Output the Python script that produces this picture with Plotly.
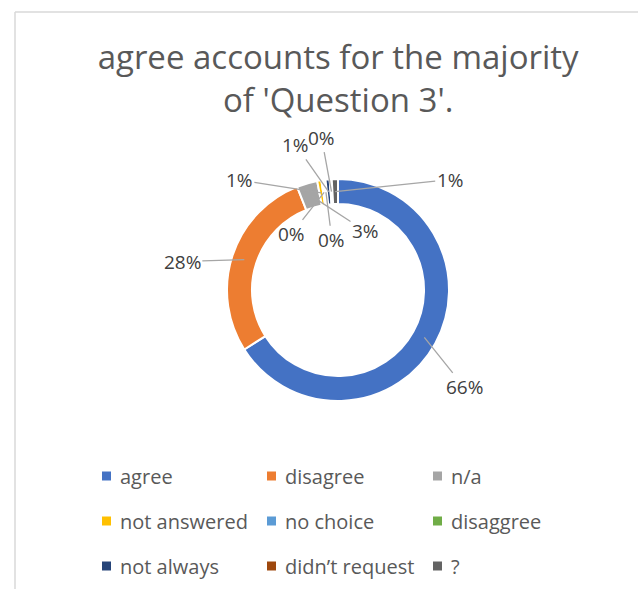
import math
import plotly.graph_objects as go

# Survey answers for Question 3 (percent of responses)
categories = ["agree", "disagree", "n/a", "not answered", "no choice",
              "disaggree", "not always", "didn\u2019t request", "?"]
shares = [66, 28, 3, 0.6, 0.3, 0.3, 0.6, 0.3, 0.9]
colors = ["#4472C4", "#ED7D31", "#A5A5A5", "#FFC000", "#5B9BD5",
          "#70AD47", "#264478", "#9E480E", "#636363"]

W, H = 638, 589
CX, CY, R = 338, 290, 111          # donut centre / outer radius (px)
HOLE = 0.775
FONT = "Open Sans"
# label offsets (px) from each slice's anchor on the ring
label_dx = [40, -62, 55, -82, -33, 6, -33, -10, 115]
label_dy = [50, 2, 36, -13, 42, 48, -47, -54, -12]

# legend grid (px): square left edges per column, row centres
leg_cols = [102, 267, 433]
leg_rows = [476, 521, 566]

# chart-area frame (px)
FRAME_L, FRAME_T = 15, 12

fig = go.Figure(go.Pie(
    labels=categories,
    values=shares,
    hole=HOLE,
    sort=False,
    direction="clockwise",
    rotation=0,
    marker=dict(colors=colors, line=dict(color="white", width=2)),
    textinfo="none",
    hoverinfo="label+percent",
    showlegend=False,
    domain=dict(x=[(CX - R) / W, (CX + R) / W],
                y=[1 - (CY + R) / H, 1 - (CY - R) / H]),
))

# percentage labels with leader lines, positioned at slice mid-angles
total = sum(shares)
ring_r = R * (1 + HOLE) / 2
cum = 0.0
annotations = []
for v, dx, dy in zip(shares, label_dx, label_dy):
    mid = (cum + v / 2) / total * 2 * math.pi
    cum += v
    px = CX + ring_r * math.sin(mid)
    py = CY - ring_r * math.cos(mid)
    annotations.append(dict(
        x=px / W, y=1 - py / H, xref="paper", yref="paper",
        text=f"{v / total * 100:.0f}%",
        showarrow=True, arrowhead=0, arrowwidth=1.3, arrowcolor="#A6A6A6",
        ax=dx, ay=dy, standoff=0, startstandoff=0,
        font=dict(size=19, color="#404040", family=FONT),
    ))

# legend: 3 x 3 grid of coloured squares with category names
shapes = [
    dict(type="line", xref="paper", yref="paper",
         x0=FRAME_L / W, x1=FRAME_L / W, y0=0, y1=1 - FRAME_T / H,
         line=dict(color="#D9D9D9", width=1.5)),
    dict(type="line", xref="paper", yref="paper",
         x0=FRAME_L / W, x1=1, y0=1 - FRAME_T / H, y1=1 - FRAME_T / H,
         line=dict(color="#D9D9D9", width=1.5)),
]
for i, (name, col) in enumerate(zip(categories, colors)):
    x0 = leg_cols[i % 3]
    yc = leg_rows[i // 3]
    shapes.append(dict(
        type="rect", xref="paper", yref="paper",
        x0=x0 / W, x1=(x0 + 9) / W,
        y0=1 - (yc + 4.5) / H, y1=1 - (yc - 4.5) / H,
        fillcolor=col, line=dict(width=0),
    ))
    annotations.append(dict(
        x=(x0 + 16) / W, y=1 - yc / H, xref="paper", yref="paper",
        xanchor="left", yanchor="middle", showarrow=False,
        text=name,
        font=dict(size=20, color="#595959", family=FONT),
    ))

fig.update_layout(
    width=W, height=H,
    margin=dict(l=0, r=0, t=0, b=0),
    paper_bgcolor="white",
    font=dict(family=FONT, color="#595959"),
    title=dict(
        text="agree accounts for the majority<br>of 'Question 3'.",
        x=0.53, xanchor="center", y=1 - 69 / H, yanchor="middle",
        font=dict(size=33, color="#595959", family=FONT),
    ),
    annotations=annotations,
    shapes=shapes,
)

fig.write_html("out.html")
